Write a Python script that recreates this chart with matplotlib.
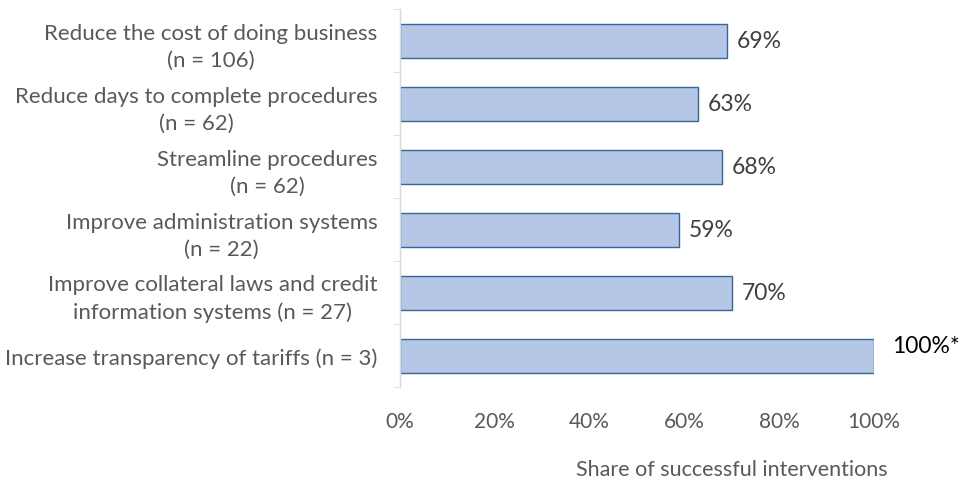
import matplotlib
matplotlib.use("Agg")
import matplotlib.pyplot as plt
import numpy as np

plt.rcParams["font.family"] = ["Lato", "DejaVu Sans"]

categories = [
    "Reduce the cost of doing business\n(n = 106)",
    "Reduce days to complete procedures\n(n = 62)",
    "Streamline procedures\n(n = 62)",
    "Improve administration systems\n(n = 22)",
    "Improve collateral laws and credit\ninformation systems (n = 27)",
    "Increase transparency of tariffs (n = 3)",
]
shares = [0.69, 0.63, 0.68, 0.59, 0.70, 1.00]
value_labels = ["69%", "63%", "68%", "59%", "70%", "100%*"]
xticks = [0, 0.2, 0.4, 0.6, 0.8, 1.0]
xtick_labels = ["0%", "20%", "40%", "60%", "80%", "100%"]

fig = plt.figure(figsize=(9.73, 4.85), dpi=100)
ax = fig.add_axes([0.411, 0.2, 0.487, 0.779])

y = np.arange(len(categories))
ax.barh(y, shares, height=0.54, color="#b4c7e7", edgecolor="#3a6696", linewidth=1.0)
ax.set_ylim(len(categories) - 0.5, -0.5)
ax.set_xlim(0, 1)

for yi, v, lab in zip(y, shares, value_labels):
    if lab.endswith("*"):
        ax.annotate(lab, (v, yi), xytext=(13, 7), textcoords="offset points",
                    va="center", ha="left", fontsize=16.5, color="#000000")
    else:
        ax.annotate(lab, (v, yi), xytext=(7, 0), textcoords="offset points",
                    va="center", ha="left", fontsize=16.5, color="#404040")

ax.set_yticks(y)
ax.set_yticklabels(categories, fontsize=16, color="#595959", multialignment="center",
                   linespacing=1.45)
ax.set_yticks(np.arange(len(categories) + 1) - 0.5, minor=True)
ax.tick_params(axis="y", which="major", length=0, pad=16)
ax.tick_params(axis="y", which="minor", length=5, color="#d9d9d9", direction="out")

ax.set_xticks(xticks)
ax.set_xticklabels(xtick_labels, fontsize=15, color="#595959")
ax.tick_params(axis="x", length=0, pad=17)

ax.set_xlabel("Share of successful interventions", fontsize=15.5, color="#595959")
ax.xaxis.set_label_coords(0.70, -0.19)

for s in ["top", "right", "bottom"]:
    ax.spines[s].set_visible(False)
ax.spines["left"].set_color("#d9d9d9")
ax.spines["left"].set_linewidth(1.0)

fig.savefig("out.png", dpi=100, facecolor="white")
